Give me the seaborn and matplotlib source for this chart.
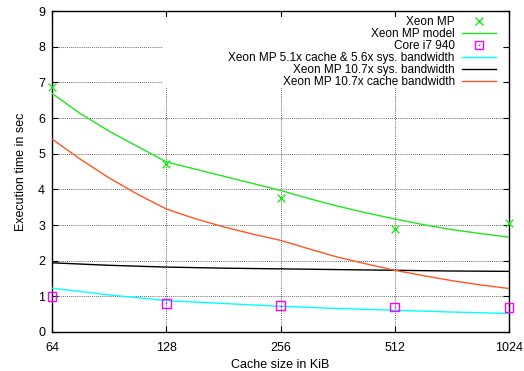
import matplotlib
matplotlib.use("Agg")
import matplotlib.pyplot as plt
import seaborn as sns
import pandas as pd
from matplotlib.patches import Rectangle
from matplotlib.lines import Line2D
from matplotlib.legend_handler import HandlerTuple

# ---- data ----
cache_kib = [64, 128, 256, 512, 1024]
xeon_mp = [6.88, 4.71, 3.77, 2.89, 3.06]
core_i7 = [0.99, 0.80, 0.74, 0.70, 0.68]

fine_kib = [64, 76.1, 90.5, 107.6, 128, 152.2, 181, 215.3, 256,
            304.4, 362, 430.5, 512, 608.9, 724.1, 861.1, 1024]
xeon_model = [6.69, 6.12, 5.63, 5.20, 4.77, 4.57, 4.37, 4.17, 3.97,
              3.74, 3.53, 3.34, 3.17, 3.01, 2.87, 2.76, 2.66]
xeon_107_cache = [5.41, 4.84, 4.32, 3.86, 3.45, 3.18, 2.95, 2.75, 2.57,
                  2.33, 2.10, 1.91, 1.73, 1.58, 1.44, 1.32, 1.22]

coarse_kib = [64, 90.5, 128, 181, 256, 362, 512, 724.1, 1024]
xeon_51_56 = [1.23, 1.04, 0.88, 0.80, 0.72, 0.66, 0.61, 0.56, 0.52]
xeon_107_sys = [1.94, 1.87, 1.82, 1.79, 1.77, 1.75, 1.73, 1.71, 1.70]

x_ticks = [64, 128, 256, 512, 1024]
x_tick_labels = ["64", "128", "256", "512", "1024"]
y_ticks = [0, 1, 2, 3, 4, 5, 6, 7, 8, 9]

labels = ["Xeon MP", "Xeon MP model", "Core i7 940",
          "Xeon MP 5.1x cache & 5.6x sys. bandwidth",
          "Xeon MP 10.7x sys. bandwidth",
          "Xeon MP 10.7x cache bandwidth"]

GREEN = "#1ee61e"
MAGENTA = "#ff00ff"
CYAN = "#00ffff"
BLACK = "#000000"
ORANGE = "#ff5522"

plt.rcParams["font.family"] = ["Liberation Sans", "DejaVu Sans"]
FS = 9
LFS = 8.5

fig = plt.figure(figsize=(5.24, 3.71), dpi=100)
ax = fig.add_axes([52 / 524, 1 - 332 / 371, (509 - 52) / 524, (332 - 11) / 371])

fine = pd.DataFrame({"x": fine_kib, "model": xeon_model, "c107": xeon_107_cache})
coarse = pd.DataFrame({"x": coarse_kib, "c51": xeon_51_56, "s107": xeon_107_sys})
pts = pd.DataFrame({"x": cache_kib, "xeon": xeon_mp, "i7": core_i7})

lw = 1.0
sns.lineplot(data=fine, x="x", y="model", ax=ax, color=GREEN, lw=lw, zorder=3)
sns.lineplot(data=coarse, x="x", y="c51", ax=ax, color=CYAN, lw=lw, zorder=3)
sns.lineplot(data=coarse, x="x", y="s107", ax=ax, color=BLACK, lw=lw, zorder=3)
sns.lineplot(data=fine, x="x", y="c107", ax=ax, color=ORANGE, lw=lw, zorder=3)

sns.scatterplot(data=pts, x="x", y="xeon", ax=ax, marker="x", s=30, color=GREEN,
                linewidth=1.0, zorder=4, clip_on=False)
sns.scatterplot(data=pts, x="x", y="i7", ax=ax, marker="s", s=40, facecolor="none",
                edgecolor=MAGENTA, linewidth=1.0, zorder=4, clip_on=False)
sns.scatterplot(data=pts, x="x", y="i7", ax=ax, marker="o", s=1.5, color=MAGENTA,
                linewidth=0, zorder=4, clip_on=False)

ax.set_xscale("log", base=2)
ax.set_xlim(64, 1024)
ax.set_ylim(0, 9)
ax.set_xticks(x_ticks)
ax.set_xticklabels(x_tick_labels)
ax.minorticks_off()
ax.set_yticks(y_ticks)
ax.tick_params(direction="in", length=4.5, width=0.8, top=True, right=True,
               labelsize=FS, colors="black")
ax.tick_params(axis="y", pad=5)
ax.tick_params(axis="x", pad=7)
for s in ax.spines.values():
    s.set_linewidth(1.0)
    s.set_color("black")

ax.grid(True, linestyle=(0, (1, 1.5)), color="#333333", linewidth=0.6)
ax.set_axisbelow(True)

ax.set_xlabel("Cache size in KiB", fontsize=FS, labelpad=4)
ax.set_ylabel("Execution time in sec", fontsize=FS, labelpad=8)

# white key background hiding grid
inv = ax.transAxes.inverted()
(x0, y0) = inv.transform((163, 371 - 87))
(x1, y1) = inv.transform((503, 371 - 17))
ax.add_patch(Rectangle((x0, y0), x1 - x0, y1 - y0, transform=ax.transAxes,
                       facecolor="white", edgecolor="none", zorder=1))

h_xeon = Line2D([], [], linestyle="none", marker="x", color=GREEN, markersize=5.5, mew=1.0)
h_model = Line2D([], [], color=GREEN, lw=lw)
h_sq = Line2D([], [], linestyle="none", marker="s", markerfacecolor="none",
              markeredgecolor=MAGENTA, markersize=6, mew=1.0)
h_dot = Line2D([], [], linestyle="none", marker="o", color=MAGENTA, markersize=1.2, mew=0)
h_c = Line2D([], [], color=CYAN, lw=lw)
h_k = Line2D([], [], color=BLACK, lw=lw)
h_o = Line2D([], [], color=ORANGE, lw=lw)

ax_lx, ax_ly = inv.transform((496, 371 - 16.5))
leg = ax.legend([h_xeon, h_model, (h_sq, h_dot), h_c, h_k, h_o], labels,
                handler_map={tuple: HandlerTuple(ndivide=1)},
                loc="upper right", bbox_to_anchor=(ax_lx, ax_ly),
                frameon=False, markerfirst=False, fontsize=LFS,
                handlelength=2.9, handletextpad=0.6, labelspacing=0.0,
                borderpad=0, borderaxespad=0)

fig.savefig("out.png", dpi=100)
